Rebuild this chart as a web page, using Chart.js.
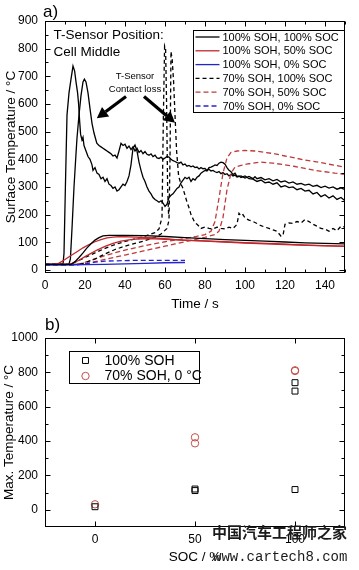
<!DOCTYPE html>
<html><head><meta charset="utf-8">
<script src="https://cdn.jsdelivr.net/npm/chart.js@4.4.1/dist/chart.umd.min.js"></script>
<style>
html,body{margin:0;padding:0;background:#fff;}
body{width:359px;height:570px;position:relative;font-family:'Liberation Sans',Arial,sans-serif;}
.box{display:block;position:relative;width:359px;}
.lab{position:absolute;font-size:17px;line-height:17px;color:#000;font-family:'Liberation Sans',Arial,sans-serif;}
.wm{position:absolute;color:#1a1a1a;white-space:nowrap;}
</style></head><body>
<div class="box" style="height:312px"><canvas id="cTop"></canvas></div>
<div class="box" style="height:258px"><canvas id="cBot"></canvas></div>
<div class="lab" style="left:43px;top:3px">a)</div>
<div class="lab" style="left:45px;top:316px">b)</div>
<div class="wm" style="left:212px;top:523px;font:bold 15px 'Noto Sans CJK SC';line-height:18px;">中国汽车工程师之家</div>
<div class="wm" style="left:213px;top:548px;font:14px 'Liberation Mono';line-height:18px;">www.cartech8.com</div>
<script>
// ---------- tick values ----------
const timeTicks = [0,20,40,60,80,100,120,140];
const timeMinorTicks = [10,30,50,70,90,110,130,150];
const tempTicks = [0,100,200,300,400,500,600,700,800,900];
const tempMinorTicks = [50,150,250,350,450,550,650,750,850];
const socTicks = [0,50,100];
const maxTempTicks = [0,200,400,600,800,1000];
const maxTempMinorTicks = [100,300,500,700,900];

// ---------- legend labels ----------
const legendLabelsTop = ["100% SOH, 100% SOC","100% SOH, 50% SOC","100% SOH, 0% SOC","70% SOH, 100% SOC","70% SOH, 50% SOC","70% SOH, 0% SOC"];
const legendLabelsBot = ["100% SOH","70% SOH, 0 °C"];

// ---------- panel a) series: [time s, temperature °C] ----------
const soh100soc100_run1 = [[0,20],[5,20],[9,21],[9.5,60],[10.2,300],[11,560],[12,640],[13,690],[14,737],[14.8,720],[15.5,680],[16.3,640],[16.8,600],[17.3,540],[17.8,490],[18.5,470],[19,480],[19.5,450],[20.5,430],[21.5,410],[22.5,400],[23.5,380],[24,360],[25,370],[26,350],[27,345],[28,330],[29,335],[30,320],[31,330],[32,310],[33,305],[34,295],[35,300],[36,285],[37,290],[38,300],[39,310],[40,305],[41,320],[42,340],[43,380],[44,440],[45,452],[46,430],[47,390],[48,360],[49,335],[50,320],[51,300],[52,285],[53,275],[54,262],[55,255],[56,250],[57,245],[58,250],[59,242],[60,230],[61,238],[62,262],[63,270],[64,275],[65,285],[66,295],[67,300],[68,315],[69,325],[70,335],[71,330],[72,335],[73,320],[74,330],[75,325],[76,335],[77,340],[78,350],[79,355],[80,360],[81,358],[82,370],[83,372],[84,375],[85,380],[86,378],[87,386],[88,390],[89,388],[90,382],[91,370],[92,360],[93,355],[94,345],[95,350],[96,338],[97,340],[98,334],[100,340],[102,330],[104,328],[106,320],[108,325],[110,315],[112,318],[114,310],[116,315],[118,300],[120,305],[122,298],[124,300],[126,290],[128,295],[130,285],[132,288],[134,275],[136,280],[138,265],[140,272],[142,260],[144,268],[146,255],[148,262],[150,250]];
const soh100soc100_run2 = [[0,20],[5,20],[12,21],[12.7,40],[13.5,150],[14.5,300],[15.5,420],[16,477],[17,560],[18,630],[19,680],[19.7,690],[20.5,680],[21.5,640],[22.6,578],[23.5,530],[24.5,495],[25.9,458],[27,450],[28,445],[29,440],[30,435],[31,430],[32,425],[33,420],[34,412],[35,415],[36,405],[37,430],[38,458],[39,450],[40,455],[41,440],[42,448],[43,435],[44,445],[45,430],[46,440],[47,425],[48,432],[49,420],[50,428],[51,418],[52,415],[53,420],[54,410],[55,415],[56,405],[57,403],[58,408],[59,400],[60,405],[61,410],[62,408],[63,400],[64,395],[65,392],[66,388],[67,386],[68,390],[69,380],[70,383],[71,375],[72,378],[73,373],[74,376],[75,370],[76,372],[77,365],[78,370],[79,366],[80,367],[81,360],[82,364],[83,358],[84,360],[85,355],[86,352],[87,356],[88,348],[89,352],[90,345],[91,348],[92,340],[93,346],[94,340],[95,343],[96,336],[98,340],[100,332],[102,338],[104,330],[105,337],[106,330],[108,334],[110,326],[112,330],[114,322],[116,327],[118,318],[120,322],[122,314],[124,318],[126,310],[128,313],[130,307],[132,310],[134,302],[136,306],[138,298],[140,303],[142,296],[144,300],[146,292],[148,297],[150,290]];
const soh100soc100_run3 = [[0,20],[13,20],[15,30],[17,45],[19,62],[21,80],[23,95],[25,108],[27,117],[29,123],[32,125],[40,125],[50,124],[60,121],[70,117],[80,113],[90,110],[100,107],[110,104],[120,101],[130,98],[140,96],[150,94]];
const soh100soc50_run1 = [[0,20],[5,20],[7,25],[10,38],[13,52],[16,66],[19,80],[22,92],[25,102],[28,110],[31,116],[34,119],[38,121],[45,119],[55,116],[68,108],[80,104],[100,97],[120,92],[140,87],[150,85]];
const soh100soc50_run2 = [[0,20],[12,20],[14,25],[17,35],[20,48],[23,60],[26,72],[30,85],[34,96],[38,104],[42,109],[46,112],[52,113],[60,111],[70,108],[80,105],[90,102],[100,99],[115,95],[130,90],[150,86]];
const soh100soc0_run1 = [[0,18],[10,18],[20,19],[30,20],[40,22],[50,24],[60,26],[70,27]];
const soh70soc100_run1 = [[0,20],[12,20],[15,28],[20,45],[25,62],[30,78],[35,92],[40,103],[45,112],[50,122],[55,135],[57,148],[58.5,190],[59.2,560],[59.8,810],[60.3,800],[60.8,600],[61.3,300],[61.8,200]];
const soh70soc100_run2 = [[0,20],[17,20],[20,26],[25,40],[30,58],[35,74],[40,86],[45,96],[50,106],[55,118],[58,130],[61,150],[62,180],[62.5,400],[63,790],[63.6,760],[64.3,680],[65,560],[65.8,430],[66.8,340],[68,310],[69,295],[70,270],[71,245],[72,225],[73,200],[74,185],[75,170],[76,165],[77,158],[78,150],[80,155],[82,150],[84,148],[86,155],[88,150],[90,148],[92,155],[94,150],[96,165],[97,205],[98,195],[99,200],[100,188],[102,180],[104,175],[106,168],[108,160],[110,155],[112,150],[114,145],[116,140],[118,122],[119,125],[120,165],[122,170],[124,168],[126,175],[128,170],[130,182],[132,175],[134,165],[136,158],[138,150],[140,148],[142,140],[144,150],[146,142],[148,158],[150,155]];
const soh70soc50_run1 = [[0,20],[15,20],[18,24],[22,32],[26,42],[30,52],[35,62],[40,72],[45,80],[50,88],[55,95],[60,102],[65,108],[70,114],[75,120],[80,128],[83,140],[85,175],[87,260],[89,350],[91,405],[93,425],[96,430],[100,432],[105,430],[110,425],[115,420],[120,412],[125,405],[130,397],[135,392],[140,385],[145,378],[150,372]];
const soh70soc50_run2 = [[0,20],[18,20],[21,23],[25,30],[30,38],[35,46],[40,54],[45,62],[50,70],[55,78],[60,86],[65,94],[70,102],[75,110],[80,118],[85,128],[87,140],[89,190],[91,290],[93,350],[95,372],[98,378],[102,384],[108,390],[114,386],[120,380],[125,374],[130,367],[135,360],[140,355],[145,350],[150,346]];
const soh70soc0_run1 = [[0,18],[15,18],[20,22],[25,28],[30,32],[40,34],[50,35],[60,35],[70,35]];

// ---------- panel b) max temperatures ----------
const socSoh100 = [0,50,50,100,100,100];
const maxTempSoh100 = [18,121,112,740,691,118];
const socSoh70 = [0,50,50,100,100];
const maxTempSoh70 = [32,422,387,808,812];

// ---------- styles ----------
const groupStyles = [
  {color:'#000000', dash:[]},
  {color:'#c0282d', dash:[]},
  {color:'#2626c8', dash:[]},
  {color:'#000000', dash:[4,3]},
  {color:'#bf3a3a', dash:[5,3]},
  {color:'#2626c8', dash:[5,3]}
];
const topSeries = [
  {g:0, d:soh100soc100_run3},{g:1, d:soh100soc50_run1},{g:1, d:soh100soc50_run2},
  {g:2, d:soh100soc0_run1},{g:5, d:soh70soc0_run1},
  {g:3, d:soh70soc100_run1},{g:3, d:soh70soc100_run2},
  {g:4, d:soh70soc50_run1},{g:4, d:soh70soc50_run2},
  {g:0, d:soh100soc100_run1},{g:0, d:soh100soc100_run2}
];

// software-rendered contexts (avoids GPU canvas artefacts)
document.getElementById('cTop').getContext('2d',{willReadFrequently:true});
document.getElementById('cBot').getContext('2d',{willReadFrequently:true});

Chart.defaults.font.family = "'Liberation Sans', Arial, sans-serif";
Chart.defaults.color = '#000';

const frameTicks = {
  id:'frameTicks',
  afterDatasetsDraw(chart, args, o){
    const {ctx, chartArea:a, scales:{x,y}} = chart;
    ctx.save();
    ctx.strokeStyle = '#000'; ctx.lineWidth = 1; ctx.setLineDash([]);
    const L=Math.round(a.left)+0.5, R=Math.round(a.right)-0.5, T=Math.round(a.top)+0.5, B=Math.round(a.bottom)-0.5;
    ctx.strokeRect(L, T, R-L, B-T);
    const xt=(vals,len)=>vals.forEach(v=>{const p=Math.round(x.getPixelForValue(v))+0.5; ctx.beginPath(); ctx.moveTo(p,B); ctx.lineTo(p,B-len); ctx.moveTo(p,T); ctx.lineTo(p,T+len); ctx.stroke();});
    const yt=(vals,len)=>vals.forEach(v=>{const p=Math.round(y.getPixelForValue(v))+0.5; ctx.beginPath(); ctx.moveTo(L,p); ctx.lineTo(L+len,p); ctx.moveTo(R,p); ctx.lineTo(R-len,p); ctx.stroke();});
    xt(o.xMajor,5); xt(o.xMinor||[],3); yt(o.yMajor,5); yt(o.yMinor||[],3);
    ctx.restore();
  }
};

function arrow(ctx,x1,y1,x2,y2,w,hl,hw){
  const ang=Math.atan2(y2-y1,x2-x1);
  const bx=x2-hl*Math.cos(ang), by=y2-hl*Math.sin(ang);
  ctx.lineWidth=w; ctx.beginPath(); ctx.moveTo(x1,y1); ctx.lineTo(bx,by); ctx.stroke();
  ctx.beginPath(); ctx.moveTo(x2,y2);
  ctx.lineTo(bx+hw/2*Math.sin(ang), by-hw/2*Math.cos(ang));
  ctx.lineTo(bx-hw/2*Math.sin(ang), by+hw/2*Math.cos(ang));
  ctx.closePath(); ctx.fill();
}

const topDecor = {
  id:'topDecor',
  afterDraw(chart){
    const {ctx, chartArea:a, scales:{x,y}} = chart;
    ctx.save();
    const bx=Math.round(x.getPixelForValue(74))+0.5, by=Math.round(a.top)+9.5, br=Math.round(a.right)-0.5, bb=by+82;
    ctx.fillStyle='#fff'; ctx.fillRect(bx,by,br-bx,bb-by);
    ctx.strokeStyle='#000'; ctx.lineWidth=1; ctx.strokeRect(bx,by,br-bx,bb-by);
    ctx.font="11px 'Liberation Sans', Arial, sans-serif"; ctx.textBaseline='middle'; ctx.textAlign='left';
    legendLabelsTop.forEach((lab,i)=>{
      const st=groupStyles[i]; const cy=by+6.5+13.8*i;
      ctx.strokeStyle=st.color; ctx.lineWidth=1.3; ctx.setLineDash(st.dash);
      ctx.beginPath(); ctx.moveTo(bx+2,cy); ctx.lineTo(bx+26,cy); ctx.stroke();
      ctx.setLineDash([]); ctx.fillStyle='#000'; ctx.fillText(lab,bx+29,cy+0.5);
    });
    ctx.fillStyle='#000';
    ctx.font="13.5px 'Liberation Sans', Arial, sans-serif"; ctx.textAlign='left';
    ctx.fillText('T-Sensor Position:', x.getPixelForValue(4.2), y.getPixelForValue(849));
    ctx.fillText('Cell Middle', x.getPixelForValue(4.2), y.getPixelForValue(788));
    ctx.font="9.5px 'Liberation Sans', Arial, sans-serif"; ctx.textAlign='center';
    ctx.fillText('T-Sensor', x.getPixelForValue(45), y.getPixelForValue(701));
    ctx.fillText('Contact loss', x.getPixelForValue(45), y.getPixelForValue(653));
    ctx.strokeStyle='#000';
    arrow(ctx, x.getPixelForValue(40.5), y.getPixelForValue(627), x.getPixelForValue(25.9), y.getPixelForValue(548), 3.2, 11, 12);
    arrow(ctx, x.getPixelForValue(49.5), y.getPixelForValue(627), x.getPixelForValue(65), y.getPixelForValue(532), 3.2, 11, 12);
    ctx.restore();
  }
};

new Chart(document.getElementById('cTop'), {
  type:'line',
  data:{datasets: topSeries.map(s=>({
    data: s.d.map(([t,v])=>({x:t,y:v})),
    borderColor: groupStyles[s.g].color, borderDash: groupStyles[s.g].dash,
    borderWidth: 1.3, pointRadius:0, tension:0, fill:false
  }))},
  options:{
    responsive:true, maintainAspectRatio:false, animation:false, devicePixelRatio:1,
    layout:{padding:{top:21,right:14,left:0,bottom:0}},
    plugins:{legend:{display:false}, tooltip:{enabled:false},
      frameTicks:{xMajor:timeTicks,xMinor:timeMinorTicks,yMajor:tempTicks,yMinor:tempMinorTicks}},
    scales:{
      x:{type:'linear', min:0, max:150, grid:{display:false, drawTicks:false}, border:{display:false},
        afterBuildTicks:s=>{s.ticks=timeTicks.map(v=>({value:v}));},
        afterFit:s=>{s.height=39;},
        ticks:{padding:5, font:{size:12}, maxRotation:0, callback:v=>String(v)},
        title:{display:true, text:'Time / s', font:{size:13.5}, padding:{top:0,bottom:0}}},
      y:{type:'linear', min:-11, max:900, grid:{display:false, drawTicks:false}, border:{display:false},
        afterBuildTicks:s=>{s.ticks=tempTicks.map(v=>({value:v}));},
        afterFit:s=>{s.width=45;},
        ticks:{padding:7, font:{size:12}, callback:v=>String(v)},
        title:{display:true, text:'Surface Temperature / °C', font:{size:13.5}, padding:{top:3,bottom:0}}}
    }
  },
  plugins:[frameTicks, topDecor]
});

const botDecor = {
  id:'botDecor',
  afterDraw(chart){
    const {ctx, chartArea:a, scales:{x,y}} = chart;
    ctx.save();
    const bx=Math.round(x.getPixelForValue(-13))+0.5, by=Math.round(a.top)+13.5, br=Math.round(x.getPixelForValue(52))+0.5, bb=by+32;
    ctx.fillStyle='#fff'; ctx.fillRect(bx,by,br-bx,bb-by);
    ctx.strokeStyle='#000'; ctx.lineWidth=1; ctx.strokeRect(bx,by,br-bx,bb-by);
    ctx.font="14px 'Liberation Sans', Arial, sans-serif"; ctx.textBaseline='middle'; ctx.textAlign='left';
    chart.data.datasets.forEach((ds,i)=>{
      const cy=by+9+15.5*i;
      ctx.strokeStyle=ds.borderColor; ctx.lineWidth=1;
      ctx.beginPath();
      if(ds.pointStyle==='circle'){ctx.arc(bx+16,cy,ds.pointRadius,0,Math.PI*2);} else {const h=ds.pointRadius*0.707; ctx.rect(bx+16-h,cy-h,2*h,2*h);}
      ctx.stroke();
      ctx.fillStyle='#000'; ctx.fillText(legendLabelsBot[i],bx+35,cy+0.5);
    });
    ctx.restore();
  }
};

new Chart(document.getElementById('cBot'), {
  type:'scatter',
  data:{datasets:[
    {data: socSoh100.map((s,i)=>({x:s,y:maxTempSoh100[i]})), pointStyle:'rect', pointRadius:4.2, borderColor:'#000', backgroundColor:'rgba(0,0,0,0)', borderWidth:1, showLine:false},
    {data: socSoh70.map((s,i)=>({x:s,y:maxTempSoh70[i]})), pointStyle:'circle', pointRadius:3.7, borderColor:'#c0504d', backgroundColor:'rgba(0,0,0,0)', borderWidth:1, showLine:false}
  ]},
  options:{
    responsive:true, maintainAspectRatio:false, animation:false, devicePixelRatio:1,
    layout:{padding:{top:26,right:14,left:0,bottom:0}},
    plugins:{legend:{display:false}, tooltip:{enabled:false},
      frameTicks:{xMajor:socTicks,xMinor:[],yMajor:maxTempTicks,yMinor:maxTempMinorTicks}},
    scales:{
      x:{type:'linear', min:-25, max:125, grid:{display:false, drawTicks:false}, border:{display:false},
        afterBuildTicks:s=>{s.ticks=socTicks.map(v=>({value:v}));},
        afterFit:s=>{s.height=43;},
        ticks:{padding:5, font:{size:12}, maxRotation:0, callback:v=>String(v)},
        title:{display:true, text:'SOC / %', font:{size:13.5}, padding:{top:0,bottom:5}}},
      y:{type:'linear', min:-100, max:1000, grid:{display:false, drawTicks:false}, border:{display:false},
        afterBuildTicks:s=>{s.ticks=maxTempTicks.map(v=>({value:v}));},
        afterFit:s=>{s.width=45;},
        ticks:{padding:7, font:{size:12}, callback:v=>String(v)},
        title:{display:true, text:'Max. Temperature / °C', font:{size:13.5}, padding:{top:1,bottom:0}}}
    }
  },
  plugins:[frameTicks, botDecor]
});
</script>
</body></html>
